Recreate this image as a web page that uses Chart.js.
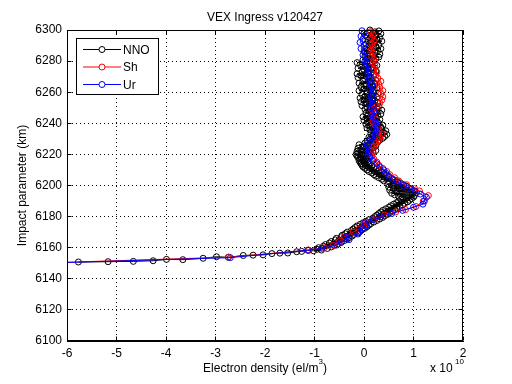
<!DOCTYPE html>
<html><head><meta charset="utf-8">
<script src="https://cdn.jsdelivr.net/npm/chart.js@4.4.0/dist/chart.umd.min.js"></script>
<style>html,body{margin:0;padding:0;background:#fff}canvas{display:block}</style>
</head><body>
<canvas id="c" width="512" height="384"></canvas>
<script>
// ---- Data (electron density in units of 1e10 el/m^3, height in km) ----
const seriesNames = ['NNO', 'Sh', 'Ur'];
const xTicks = [-6, -5, -4, -3, -2, -1, 0, 1, 2];
const yTicks = [6100, 6120, 6140, 6160, 6180, 6200, 6220, 6240, 6260, 6280, 6300];

const nnoX = [
 -5.77,-5.17,-4.66,-4.26,-3.99,-3.66,-3.25,-2.98,-2.74,-2.44,-2.24,-2.04,-1.86,-1.70,-1.54,-1.36,-1.26,-1.12,
 -1.02,-0.86,-0.95,-0.74,-0.92,-0.66,-0.82,-0.60,-0.78,-0.52,
 -0.70,-0.46,-0.66,-0.40,-0.58,-0.34,-0.56,-0.30,-0.46,-0.24,
 -0.44,-0.20,-0.38,-0.12,-0.34,-0.08,-0.26,-0.04,-0.22,0.02,
 -0.18,0.06,-0.14,0.10,-0.08,0.14,-0.02,0.20,0.04,0.26,
 0.10,0.32,0.18,0.38,0.22,0.42,0.26,0.48,0.30,0.52,
 0.34,0.58,0.38,0.62,0.44,0.66,0.50,0.72,0.54,0.78,
 0.60,0.82,0.66,0.88,0.70,0.92,0.74,0.96,0.78,1.00,
 0.70,1.02,0.62,0.98,0.56,1.06,0.66,1.02,0.52,0.96,
 0.60,0.90,0.50,0.86,0.60,0.80,0.48,0.74,0.52,0.68,
 0.40,0.62,0.36,0.56,0.30,0.50,0.24,0.46,0.20,0.40,
 0.16,0.36,0.10,0.30,0.06,0.24,0.02,0.20,-0.02,0.16,
 -0.04,0.12,-0.06,0.10,-0.08,0.08,-0.10,0.06,-0.08,0.04,
 -0.12,0.10,-0.14,0.02,-0.16,0.08,-0.12,0.18,-0.14,0.24,
 -0.06,0.12,-0.12,0.20,
 -0.02,0.24,-0.10,0.18,0.02,0.28,0.06,0.32,0.12,0.38,
 0.10,0.42,0.18,0.46,0.14,0.40,0.20,0.44,0.12,0.36,
 0.06,0.34,0.10,0.38,0.04,0.30,0.08,0.26,0.00,0.32,
 0.06,0.24,-0.02,0.28,0.08,0.34,0.04,0.22,0.10,0.36,
 0.02,0.26,0.06,0.30,-0.04,0.20,0.04,0.28,-0.06,0.22,
 0.00,0.18,-0.08,0.26,0.02,0.16,-0.04,0.28,0.06,0.20,
 -0.10,0.14,0.00,0.26,-0.06,0.18,0.04,0.22,-0.10,0.12,
 -0.02,0.24,0.02,0.16,-0.12,0.10,-0.06,0.20,-0.14,0.08,
 -0.04,0.24,0.00,0.14,-0.12,0.18,0.02,0.26,-0.08,0.12,
 -0.14,0.06,0.20,-0.02,0.24,0.08,0.30,0.02,0.18,0.32,
 0.06,0.22,0.00,0.28,0.12,0.34,0.06,0.24,0.10,0.30,
 0.04,0.22,0.14,0.36,0.08,0.26,0.12,0.32,0.06,0.24,
 0.16,0.34,0.08,0.22,0.30,0.12];
const nnoH = [
 6150.8,6151.0,6151.2,6151.6,6152.5,6152.3,6153.2,6154.2,6153.8,6155.0,6155.2,6155.4,6156.2,6156.5,6156.6,6157.4,6157.6,6158.3,
 6158.0,6158.5,6159.0,6159.5,6160.0,6160.5,6161.0,6161.5,6162.0,6162.5,
 6163.0,6163.5,6164.0,6164.5,6165.0,6165.5,6166.0,6166.5,6167.0,6167.5,
 6168.0,6168.5,6169.0,6169.5,6170.0,6170.5,6171.0,6171.5,6172.0,6172.5,
 6173.0,6173.5,6174.0,6174.5,6175.0,6175.5,6176.0,6176.5,6177.0,6177.5,
 6178.0,6178.5,6179.0,6179.5,6180.0,6180.5,6181.0,6181.5,6182.0,6182.5,
 6183.0,6183.5,6184.0,6184.5,6185.0,6185.5,6186.0,6186.5,6187.0,6187.5,
 6188.0,6188.5,6189.0,6189.5,6190.0,6190.5,6191.0,6191.5,6192.0,6192.5,
 6193.0,6193.5,6194.0,6194.5,6195.0,6195.5,6196.0,6196.5,6197.0,6197.5,
 6198.0,6198.5,6199.0,6199.5,6200.0,6200.5,6201.0,6201.5,6202.0,6202.5,
 6203.0,6203.5,6204.0,6204.5,6205.0,6205.5,6206.0,6206.5,6207.0,6207.5,
 6208.0,6208.5,6209.0,6209.5,6210.0,6210.5,6211.0,6211.5,6212.0,6212.5,
 6213.0,6213.5,6214.0,6214.5,6215.0,6215.5,6216.0,6216.5,6217.0,6217.5,
 6218.0,6218.5,6219.0,6219.5,6220.0,6220.5,6221.0,6221.5,6222.0,6222.5,
 6223.0,6223.5,6224.0,6224.5,
 6225.0,6225.6,6226.2,6226.8,6227.4,6228.0,6228.6,6229.2,6229.8,6230.4,
 6231.0,6231.6,6232.2,6232.8,6233.4,6234.0,6234.6,6235.2,6235.8,6236.4,
 6237.0,6237.6,6238.2,6238.8,6239.4,6240.0,6240.6,6241.2,6241.8,6242.4,
 6243.0,6243.6,6244.2,6244.8,6245.4,6246.0,6246.6,6247.2,6247.8,6248.4,
 6249.0,6249.6,6250.2,6250.8,6251.4,6252.0,6252.6,6253.2,6253.8,6254.4,
 6255.0,6255.6,6256.2,6256.8,6257.4,6258.0,6258.6,6259.2,6259.8,6260.4,
 6261.0,6261.6,6262.2,6262.8,6263.4,6264.0,6264.6,6265.2,6265.8,6266.4,
 6267.0,6267.6,6268.2,6268.8,6269.4,6270.0,6270.6,6271.2,6271.8,6272.4,
 6273.0,6273.6,6274.2,6274.8,6275.4,6276.0,6276.6,6277.2,6277.8,6278.4,
 6279.0,6279.6,6280.2,6280.8,6281.4,6282.0,6282.6,6283.2,6283.8,6284.4,
 6285.0,6285.6,6286.2,6286.8,6287.4,6288.0,6288.6,6289.2,6289.8,6290.4,
 6291.0,6291.6,6292.2,6292.8,6293.4,6294.0,6294.6,6295.2,6295.8,6296.4,
 6297.0,6297.6,6298.2,6298.8,6299.4,6300.0];

const shX = [-6.25,-2.74,-1.12,-0.80,-0.62,-0.50,-0.40,-0.22,-0.10,0.00,0.06,0.20,0.42,0.64,0.84,1.05,1.20,1.30,1.12,1.02,0.86,0.70,0.62,0.52,0.46,0.38,0.30,0.26,0.20,0.16,0.18,0.14,0.20,0.24,0.30,0.32,0.36,0.30,0.28,0.22,0.18,0.22,0.16,0.20,0.16,0.26,0.32,0.36,0.38,0.34,0.38,0.32,0.30,0.34,0.28,0.24,0.26,0.20,0.22,0.18,0.20,0.16,0.18,0.14,0.18,0.16,0.20,0.16,0.18,0.14];
const shH = [6150.4,6153.9,6158.5,6160.0,6161.5,6164.0,6167.0,6170.0,6172.0,6174.5,6176.5,6178.5,6181.0,6183.0,6184.5,6186.5,6190.0,6193.5,6196.5,6198.0,6200.5,6203.0,6205.0,6207.0,6209.0,6211.0,6213.0,6215.0,6217.0,6219.0,6221.0,6223.0,6225.0,6227.0,6229.0,6231.0,6233.0,6235.0,6237.0,6239.0,6241.0,6243.0,6245.0,6247.0,6249.0,6251.0,6253.0,6255.0,6257.0,6259.0,6261.0,6263.0,6265.0,6267.0,6269.0,6271.0,6273.0,6275.0,6277.0,6279.0,6281.0,6283.0,6285.0,6287.0,6289.0,6291.0,6293.0,6295.0,6297.0,6299.0];

const urX = [-6.30,-2.70,-1.14,-0.85,-0.55,-0.46,-0.30,-0.36,-0.12,-0.08,-0.02,0.04,0.02,0.18,0.34,0.56,0.78,1.00,1.19,1.22,1.26,1.14,1.02,0.94,0.80,0.68,0.58,0.50,0.44,0.40,0.32,0.26,0.18,0.12,0.08,0.10,0.04,0.08,0.06,0.12,0.16,0.22,0.24,0.20,0.26,0.24,0.22,0.18,0.16,0.20,0.14,0.18,0.12,0.16,0.14,0.18,0.12,0.16,0.14,0.10,0.12,0.08,0.10,0.04,0.06,0.02,0.06,-0.02,0.02,-0.06,0.00,-0.08,-0.02,-0.06,0.00,-0.04];
const urH = [6150.2,6153.6,6158.4,6159.6,6161.7,6163.4,6165.2,6167.0,6168.8,6170.4,6172.3,6174.0,6176.0,6178.0,6180.0,6182.0,6184.0,6186.0,6188.0,6190.0,6192.5,6194.5,6196.5,6198.0,6200.0,6202.0,6204.0,6206.0,6208.0,6210.0,6212.0,6214.0,6216.0,6218.0,6219.8,6221.6,6223.4,6225.2,6227.0,6228.8,6230.6,6232.4,6234.2,6236.0,6238.0,6240.0,6242.0,6244.0,6246.0,6248.0,6250.0,6252.0,6254.0,6256.0,6258.0,6260.0,6262.0,6264.0,6266.0,6268.0,6270.0,6272.0,6274.0,6276.0,6278.0,6280.0,6282.0,6284.0,6286.0,6288.0,6290.0,6292.0,6294.0,6296.0,6298.0,6299.5];

const FONT = '"Liberation Sans", Arial, Helvetica, sans-serif';
const colors = ['#000000', '#ff0000', '#0000ff'];

function pts(xs, hs) { return xs.map((v, i) => ({ x: v, y: hs[i] })); }

function ds(label, xs, hs, color, order) {
  return {
    label, data: pts(xs, hs), showLine: true, borderColor: color, borderWidth: 1,
    pointRadius: 3, pointHoverRadius: 3, pointBorderWidth: 1, pointBorderColor: color,
    pointBackgroundColor: 'rgba(0,0,0,0)', backgroundColor: 'rgba(0,0,0,0)', order,
    clip: { left: 0, top: 5, right: 5, bottom: 0 }
  };
}

const deco = {
  id: 'deco',
  afterDatasetsDraw(chart) {
    const { ctx, chartArea: a, scales: { x, y } } = chart;
    ctx.save();
    ctx.setLineDash([]);
    ctx.strokeStyle = '#000';
    ctx.lineWidth = 1;
    const L = Math.round(a.left) + 0.5, R = Math.round(a.right) - 0.5;
    const T = Math.round(a.top) + 0.5, B = Math.round(a.bottom) - 0.5;
    ctx.beginPath();
    xTicks.forEach(v => {
      const px = Math.round(x.getPixelForValue(v) - 0.5) + 0.5;
      ctx.moveTo(px, B); ctx.lineTo(px, B - 4);
      ctx.moveTo(px, T); ctx.lineTo(px, T + 4);
    });
    yTicks.forEach(v => {
      const py = Math.round(y.getPixelForValue(v) - 0.5) + 0.5;
      ctx.moveTo(L, py); ctx.lineTo(L + 4, py);
      ctx.moveTo(R, py); ctx.lineTo(R - 4, py);
    });
    ctx.stroke();
    ctx.strokeRect(L, T, R - L, B - T);

    // legend
    const lx = 76.5, ly = 38.5, lw = 82, lh = 56;
    ctx.fillStyle = '#fff';
    ctx.fillRect(lx, ly, lw, lh);
    ctx.strokeRect(lx, ly, lw, lh);
    const rows = [49.5, 67, 84.5];
    ctx.font = '12px ' + FONT;
    ctx.textBaseline = 'middle';
    ctx.textAlign = 'left';
    seriesNames.forEach((n, i) => {
      const yy = rows[i];
      ctx.strokeStyle = colors[i];
      ctx.beginPath(); ctx.moveTo(83, yy); ctx.lineTo(121, yy); ctx.stroke();
      ctx.beginPath(); ctx.arc(102, yy, 3, 0, Math.PI * 2); ctx.fillStyle = '#fff'; ctx.fill(); ctx.stroke();
      ctx.fillStyle = '#000';
      ctx.fillText(n, 123, yy + 1);
    });

    // title
    ctx.fillStyle = '#000';
    ctx.textBaseline = 'alphabetic';
    ctx.textAlign = 'center';
    ctx.font = '12px ' + FONT;
    ctx.fillText('VEX Ingress v120427', (a.left + a.right) / 2, 20.5);

    // x label with superscript
    const main = 'Electron density (el/m', sup = '3', tail = ')';
    ctx.font = '12px ' + FONT;
    const w1 = ctx.measureText(main).width, w3 = ctx.measureText(tail).width;
    ctx.font = '8px ' + FONT;
    const w2 = ctx.measureText(sup).width;
    let sx = (a.left + a.right) / 2 - (w1 + w2 + w3) / 2;
    ctx.textAlign = 'left';
    ctx.font = '12px ' + FONT;
    ctx.fillText(main, sx, 372);
    ctx.font = '8px ' + FONT;
    ctx.fillText(sup, sx + w1, 364);
    ctx.font = '12px ' + FONT;
    ctx.fillText(tail, sx + w1 + w2, 372);

    // exponent
    ctx.fillText('x 10', 430, 372);
    ctx.font = '8px ' + FONT;
    ctx.fillText('10', 455, 364);

    // y label
    ctx.font = '12px ' + FONT;
    ctx.translate(26, (a.top + a.bottom) / 2);
    ctx.rotate(-Math.PI / 2);
    ctx.textAlign = 'center';
    ctx.fillText('Impact parameter (km)', 0, 0);
    ctx.restore();
  }
};

new Chart(document.getElementById('c'), {
  type: 'scatter',
  data: {
    datasets: [
      ds(seriesNames[0], nnoX, nnoH, colors[0], 3),
      ds(seriesNames[1], shX, shH, colors[1], 2),
      ds(seriesNames[2], urX, urH, colors[2], 1)
    ]
  },
  options: {
    responsive: false, animation: false, devicePixelRatio: 1,
    layout: { padding: { left: 0, right: 49, top: 30, bottom: 0 } },
    plugins: { legend: { display: false }, tooltip: { enabled: false }, title: { display: false } },
    events: [],
    scales: {
      x: {
        type: 'linear', min: -6, max: 2,
        afterFit(s) { s.height = 43; },
        afterBuildTicks(s) { s.ticks = xTicks.map(v => ({ value: v })); },
        ticks: { color: '#000', font: { family: FONT, size: 12 }, padding: 5, maxRotation: 0, autoSkip: false, callback: v => String(v) },
        grid: { color: '#000', lineWidth: 1, drawTicks: false },
        border: { display: true, color: '#000', dash: [1, 3] }
      },
      y: {
        type: 'linear', min: 6100, max: 6300,
        afterFit(s) { s.width = 67; },
        afterBuildTicks(s) { s.ticks = yTicks.map(v => ({ value: v })); },
        ticks: { color: '#000', font: { family: FONT, size: 12 }, padding: 5, autoSkip: false, callback: v => String(v) },
        grid: { color: '#000', lineWidth: 1, drawTicks: false },
        border: { display: true, color: '#000', dash: [1, 3] }
      }
    }
  },
  plugins: [deco]
});
</script>
</body></html>
